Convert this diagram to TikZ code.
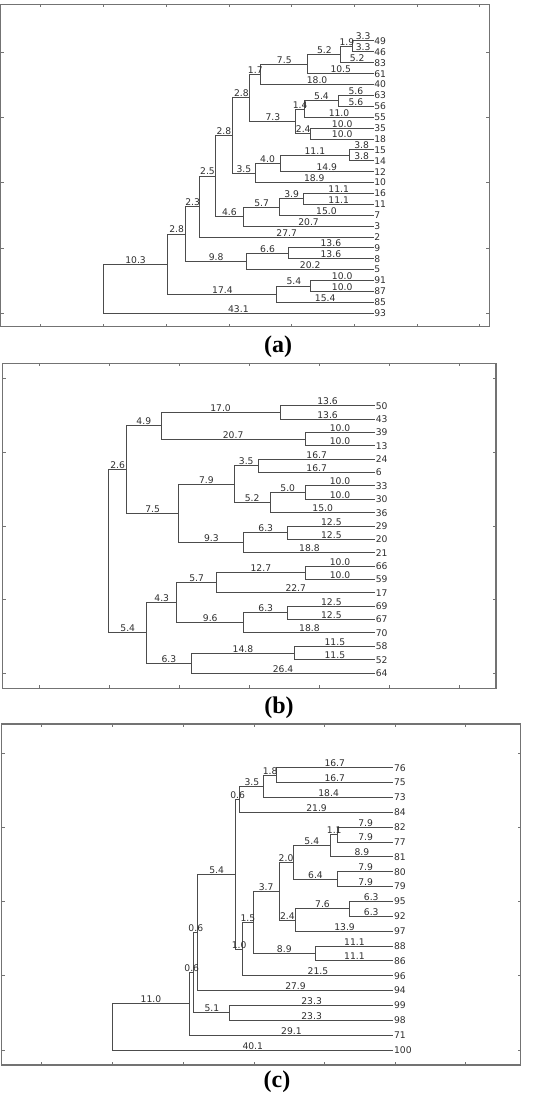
\documentclass[tikz,border=0pt]{standalone}
\usepackage{fontspec}
\newfontfamily\dgfont{DejaVu Sans}
\newfontfamily\capfont{Liberation Serif}
\def\dgXA{373.5}\def\dgSA{6.27}\def\dgYA{41}\def\dgDA{10.89}
\def\dgXB{375}\def\dgSB{6.98}\def\dgYB{405.7}\def\dgDB{13.37}
\def\dgXC{393.3}\def\dgSC{7.01}\def\dgYC{767.7}\def\dgDC{14.86}
\tikzset{
  dline/.style={draw=black!70, line width=1pt},
  lab/.style={above, inner sep=0.4pt, font=\dgfont\fontsize{9.2}{10}\selectfont, text=black!82},
  leaf/.style={anchor=west, inner sep=0.6pt, font=\dgfont\fontsize{9.2}{10}\selectfont, text=black!82},
  frame/.style={draw=black!55, line width=1.2pt},
  tickmark/.style={draw=black!55, line width=0.7pt},
  captxt/.style={font=\capfont\bfseries\fontsize{24}{28}\selectfont, text=black, inner sep=0pt}
}
\begin{document}
\begin{tikzpicture}[x=1pt,y=-1pt]
\useasboundingbox (0,0) rectangle (546,1099);
% ---------------- panel (a) ----------------
\draw[frame] (0.5,4.5) rectangle (489.3,326.7);
\foreach \x in {40.7,103,166,229,291,354,417,479} {
  \draw[tickmark] (\x,4.5) -- ++(0,3);
  \draw[tickmark] (\x,326.7) -- ++(0,-3);
}
\foreach \y in {51.9,117.2,182.6,247.9,313.3} {
  \draw[tickmark] (0.5,\y) -- ++(3,0);
  \draw[tickmark] (489.3,\y) -- ++(-3,0);
}
\foreach \n/\i in {49/0,46/1,83/2,61/3,40/4,63/5,56/6,55/7,35/8,18/9,15/10,14/11,12/12,10/13,16/14,11/15,7/16,3/17,2/18,9/19,8/20,5/21,91/22,87/23,85/24,93/25} {
  \coordinate (aL\n) at (\dgXA,{\dgYA+\dgDA*\i});
  \node[leaf] (aT\n) at (aL\n) {\n};
}
\foreach \n/\h/\i in {1/3.3/0.5, 2/5.2/1.25, 3/10.45/2.125, 4/18.0/3.0625, 5/5.6/5.5, 6/11.0/6.25, 7/10.0/8.5, 8/12.4/7.375, 9/19.7/5.21875, 10/3.8/10.5, 11/14.9/11.25, 12/18.9/12.125, 13/22.45/8.671875, 14/11.1/14.5, 15/15.0/15.25, 16/20.7/16.125, 17/25.25/12.3984, 18/27.7/15.1992, 19/13.6/19.5, 20/20.2/20.25, 21/30.0/17.7246, 22/10.0/22.5, 23/15.4/23.25, 24/32.8/20.4873, 25/43.1/22.7437} {
  \coordinate (aN\n) at ({\dgXA-\dgSA*\h},{\dgYA+\dgDA*\i});
}
\foreach \p/\c/\t in {aN1/aL49/3.3, aN1/aL46/3.3, aN2/aN1/1.9, aN2/aL83/5.2, aN3/aN2/5.2, aN3/aL61/10.5, aN4/aN3/7.5, aN4/aL40/18.0, aN5/aL63/5.6, aN5/aL56/5.6, aN6/aN5/5.4, aN6/aL55/11.0, aN7/aL35/10.0, aN7/aL18/10.0, aN8/aN6/1.4, aN8/aN7/2.4, aN9/aN4/1.7, aN9/aN8/7.3, aN10/aL15/3.8, aN10/aL14/3.8, aN11/aN10/11.1, aN11/aL12/14.9, aN12/aN11/4.0, aN12/aL10/18.9, aN13/aN9/2.8, aN13/aN12/3.5, aN14/aL16/11.1, aN14/aL11/11.1, aN15/aN14/3.9, aN15/aL7/15.0, aN16/aN15/5.7, aN16/aL3/20.7, aN17/aN13/2.8, aN17/aN16/4.6, aN18/aN17/2.5, aN18/aL2/27.7, aN19/aL9/13.6, aN19/aL8/13.6, aN20/aN19/6.6, aN20/aL5/20.2, aN21/aN18/2.3, aN21/aN20/9.8, aN22/aL91/10.0, aN22/aL87/10.0, aN23/aN22/5.4, aN23/aL85/15.4, aN24/aN21/2.8, aN24/aN23/17.4, aN25/aN24/10.3, aN25/aL93/43.1} {
  \draw[dline] (\p) |- node[lab,pos=0.75] {\t} (\c);
}
\node[captxt] (capA) at (278,347) {(a)};
% ---------------- panel (b) ----------------
\draw[frame] (2.7,363.3) rectangle (496,688.3);
\foreach \x in {39.3,109.3,179.3,249.3,319.3,389.3,459.3} {
  \draw[tickmark] (\x,363.3) -- ++(0,3);
  \draw[tickmark] (\x,688.3) -- ++(0,-3);
}
\foreach \y in {378.3,452.7,526,599.3,673.3} {
  \draw[tickmark] (2.7,\y) -- ++(3,0);
  \draw[tickmark] (496,\y) -- ++(-3,0);
}
\foreach \n/\i in {50/0,43/1,39/2,13/3,24/4,6/5,33/6,30/7,36/8,29/9,20/10,21/11,66/12,59/13,17/14,69/15,67/16,70/17,58/18,52/19,64/20} {
  \coordinate (bL\n) at (\dgXB,{\dgYB+\dgDB*\i});
  \node[leaf] (bT\n) at (bL\n) {\n};
}
\foreach \n/\h/\i in {1/13.6/0.5, 2/10.0/2.5, 3/30.65/1.5, 4/16.7/4.5, 5/10.0/6.5, 6/15.0/7.25, 7/20.2/5.875, 8/12.5/9.5, 9/18.8/10.25, 10/28.1/8.0625, 11/35.6/4.78125, 12/10.0/12.5, 13/22.7/13.25, 14/12.5/15.5, 15/18.8/16.25, 16/28.4/14.75, 17/11.5/18.5, 18/26.35/19.25, 19/32.7/17.0, 20/38.15/10.890625} {
  \coordinate (bN\n) at ({\dgXB-\dgSB*\h},{\dgYB+\dgDB*\i});
}
\foreach \p/\c/\t in {bN1/bL50/13.6, bN1/bL43/13.6, bN2/bL39/10.0, bN2/bL13/10.0, bN3/bN1/17.0, bN3/bN2/20.7, bN4/bL24/16.7, bN4/bL6/16.7, bN5/bL33/10.0, bN5/bL30/10.0, bN6/bN5/5.0, bN6/bL36/15.0, bN7/bN4/3.5, bN7/bN6/5.2, bN8/bL29/12.5, bN8/bL20/12.5, bN9/bN8/6.3, bN9/bL21/18.8, bN10/bN7/7.9, bN10/bN9/9.3, bN11/bN3/4.9, bN11/bN10/7.5, bN12/bL66/10.0, bN12/bL59/10.0, bN13/bN12/12.7, bN13/bL17/22.7, bN14/bL69/12.5, bN14/bL67/12.5, bN15/bN14/6.3, bN15/bL70/18.8, bN16/bN13/5.7, bN16/bN15/9.6, bN17/bL58/11.5, bN17/bL52/11.5, bN18/bN17/14.8, bN18/bL64/26.4, bN19/bN16/4.3, bN19/bN18/6.3, bN20/bN11/2.6, bN20/bN19/5.4} {
  \draw[dline] (\p) |- node[lab,pos=0.75] {\t} (\c);
}
\node[captxt] (capB) at (279,708) {(b)};
% ---------------- panel (c) ----------------
\draw[frame] (1.7,724) rectangle (520.7,1065);
\foreach \x in {41.3,112.3,183,254,324.3,395,465.7} {
  \draw[tickmark] (\x,724) -- ++(0,3);
  \draw[tickmark] (\x,1065) -- ++(0,-3);
}
\foreach \y in {753.3,827,901,975.7,1050} {
  \draw[tickmark] (1.7,\y) -- ++(3,0);
  \draw[tickmark] (520.7,\y) -- ++(-3,0);
}
\foreach \n/\i in {76/0,75/1,73/2,84/3,82/4,77/5,81/6,80/7,79/8,95/9,92/10,97/11,88/12,86/13,96/14,94/15,99/16,98/17,71/18,100/19} {
  \coordinate (cL\n) at (\dgXC,{\dgYC+\dgDC*\i});
  \node[leaf] (cT\n) at (cL\n) {\n};
}
\foreach \n/\h/\i in {1/16.7/0.5, 2/18.45/1.25, 3/21.9/2.125, 4/7.9/4.5, 5/8.95/5.25, 6/7.9/7.5, 7/14.3/6.375, 8/6.3/9.5, 9/13.9/10.25, 10/16.3/8.3125, 11/11.1/12.5, 12/20.0/10.40625, 13/21.5/12.203125, 14/22.5/7.1640625, 15/27.9/11.08203, 16/23.3/16.5, 17/28.45/13.79102, 18/29.05/15.89551, 19/40.1/17.44775} {
  \coordinate (cN\n) at ({\dgXC-\dgSC*\h},{\dgYC+\dgDC*\i});
}
\foreach \p/\c/\t in {cN1/cL76/16.7, cN1/cL75/16.7, cN2/cN1/1.8, cN2/cL73/18.4, cN3/cN2/3.5, cN3/cL84/21.9, cN4/cL82/7.9, cN4/cL77/7.9, cN5/cN4/1.1, cN5/cL81/8.9, cN6/cL80/7.9, cN6/cL79/7.9, cN7/cN5/5.4, cN7/cN6/6.4, cN8/cL95/6.3, cN8/cL92/6.3, cN9/cN8/7.6, cN9/cL97/13.9, cN10/cN7/2.0, cN10/cN9/2.4, cN11/cL88/11.1, cN11/cL86/11.1, cN12/cN10/3.7, cN12/cN11/8.9, cN13/cN12/1.5, cN13/cL96/21.5, cN14/cN3/0.6, cN14/cN13/1.0, cN15/cN14/5.4, cN15/cL94/27.9, cN16/cL99/23.3, cN16/cL98/23.3, cN17/cN15/0.6, cN17/cN16/5.1, cN18/cN17/0.6, cN18/cL71/29.1, cN19/cN18/11.0, cN19/cL100/40.1} {
  \draw[dline] (\p) |- node[lab,pos=0.75] {\t} (\c);
}
\node[captxt] (capC) at (277,1082) {(c)};
\end{tikzpicture}
\end{document}
